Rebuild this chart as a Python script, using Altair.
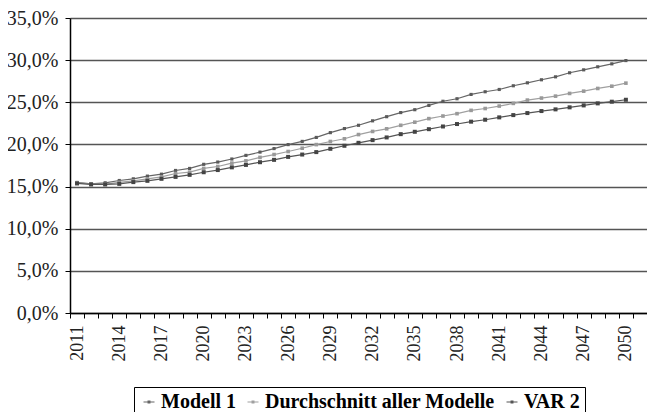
import altair as alt
import pandas as pd

years = list(range(2011, 2051))
modell1 = [15.49, 15.32, 15.45, 15.72, 15.92, 16.24, 16.47, 16.91, 17.15, 17.64,
           17.91, 18.27, 18.70, 19.09, 19.51, 19.98, 20.36, 20.83, 21.40, 21.88,
           22.27, 22.80, 23.29, 23.78, 24.12, 24.63, 25.12, 25.42, 25.93, 26.25,
           26.52, 26.96, 27.31, 27.67, 28.02, 28.50, 28.85, 29.21, 29.56, 29.95]
durchschnitt = [15.44, 15.29, 15.29, 15.49, 15.68, 15.92, 16.15, 16.55, 16.71, 17.15,
                17.38, 17.78, 18.05, 18.46, 18.80, 19.16, 19.55, 19.98, 20.35, 20.67,
                21.17, 21.54, 21.85, 22.27, 22.64, 23.06, 23.37, 23.65, 24.04, 24.26,
                24.55, 24.87, 25.26, 25.50, 25.73, 26.05, 26.32, 26.64, 26.91, 27.27]
var2 = [15.37, 15.25, 15.25, 15.32, 15.53, 15.68, 15.92, 16.15, 16.39, 16.70,
        16.96, 17.28, 17.57, 17.89, 18.17, 18.52, 18.80, 19.09, 19.48, 19.84,
        20.19, 20.51, 20.83, 21.22, 21.50, 21.81, 22.13, 22.42, 22.70, 22.93,
        23.21, 23.48, 23.72, 23.96, 24.16, 24.40, 24.63, 24.87, 25.07, 25.30]

series_names = ["Modell 1", "Durchschnitt aller Modelle", "VAR 2"]
line_colors = ["#666666", "#a0a0a0", "#555555"]
point_colors = ["#5a5a5a", "#999999", "#444444"]
point_sizes = [10, 16, 4]
y_ticks = [0, 5, 10, 15, 20, 25, 30, 35]
x_domain = list(range(2011, 2052))

rows = []
for name, vals in zip(series_names, [modell1, durchschnitt, var2]):
    for yr, v in zip(years, vals):
        rows.append({"year": yr, "value": v, "series": name})
df = pd.DataFrame(rows)

FONT = "Liberation Serif"

x_enc = alt.X(
    "year:O",
    bandPosition=0.5,
    scale=alt.Scale(type="band", domain=x_domain, paddingInner=0, paddingOuter=0),
    axis=alt.Axis(
        title=None, labelAngle=-90, tickBand="extent",
        labelExpr="(datum.value - 2011) % 3 == 0 ? datum.label : ''",
        labelOverlap=False, tickSize=5, tickColor="black", domainColor="black",
        domainWidth=1.5, grid=False, labelFont=FONT, labelFontSize=18,
        labelColor="#222222", labelPadding=7, labelLimit=200,
    ),
)
y_enc = alt.Y(
    "value:Q",
    scale=alt.Scale(domain=[0, 35], nice=False),
    axis=alt.Axis(
        title=None, values=y_ticks,
        labelExpr="replace(format(datum.value, '.1f'), '.', ',') + '%'",
        grid=True, gridColor="#555555", gridWidth=1.3, tickSize=5,
        tickColor="black", domainColor="black", domainWidth=1.5,
        labelFont=FONT, labelFontSize=20, labelColor="#222222", labelPadding=7,
    ),
)

lines = alt.Chart(df).mark_line(strokeWidth=1.2).encode(
    x=x_enc,
    y=y_enc,
    color=alt.Color(
        "series:N",
        scale=alt.Scale(domain=series_names, range=line_colors),
        legend=alt.Legend(
            title=None, orient="none", legendX=64, legendY=369,
            direction="horizontal",
            symbolType="M-1,0H1M-0.16,-0.16H0.16V0.16H-0.16Z",
            symbolSize=121, symbolStrokeWidth=1.2,
            labelFont=FONT, labelFontSize=20, labelFontWeight="bold",
            labelColor="black", labelOffset=2, columnPadding=7, labelLimit=400,
            strokeColor="black", padding=5,
        ),
    ),
)

points = alt.Chart(df).mark_point(shape="square", filled=True, opacity=1).encode(
    x=x_enc,
    y=y_enc,
    color=alt.Color("series:N", scale=alt.Scale(domain=series_names, range=point_colors), legend=None),
    size=alt.Size("series:N", scale=alt.Scale(domain=series_names, range=point_sizes), legend=None),
)

chart = (
    alt.layer(lines, points)
    .resolve_scale(color="independent")
    .properties(
        width=577, height=295,
        autosize=alt.AutoSizeParams(type="none"),
        padding={"left": 62, "top": 10, "right": 0, "bottom": 99},
    )
    .configure_view(stroke=None)
    .configure_legend(strokeWidth=1.2)
    .configure_axis(labelFont=FONT)
    .configure(background="white", font=FONT)
)

chart.save("out.html", embed_options={"renderer": "svg", "actions": False})
